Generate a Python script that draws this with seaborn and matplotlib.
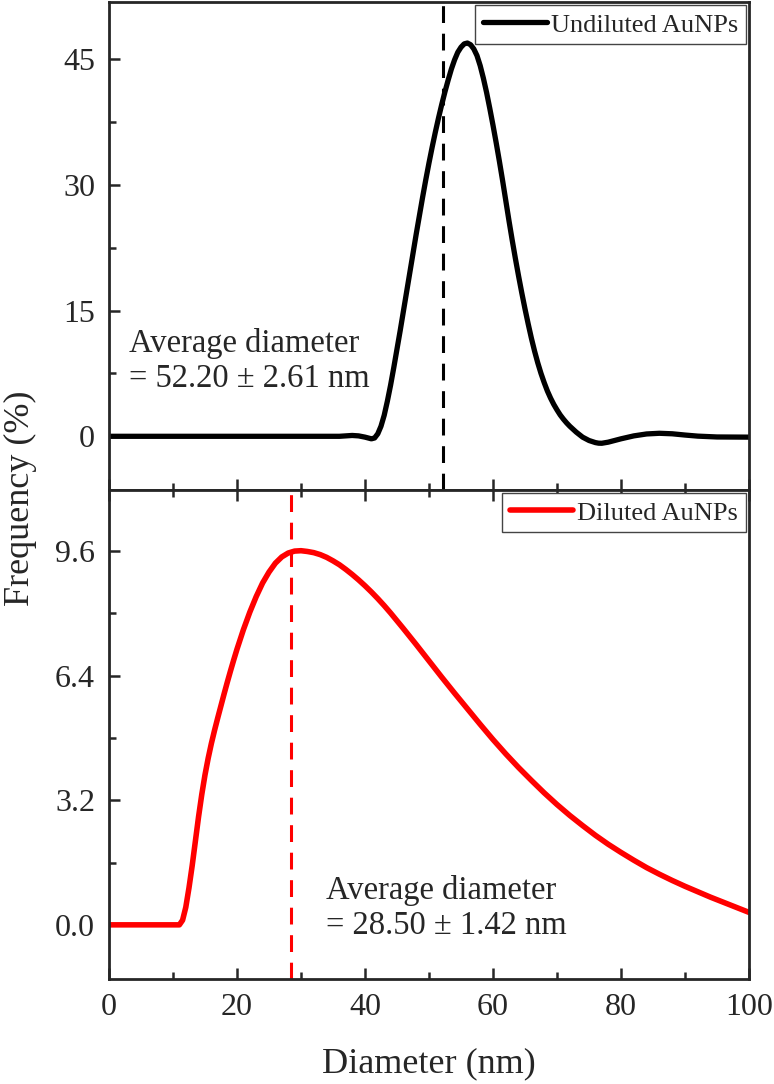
import matplotlib
matplotlib.use("Agg")
import matplotlib.pyplot as plt
from matplotlib.ticker import MultipleLocator, FormatStrFormatter
import seaborn as sns

# size distributions (diameter nm -> frequency %)
undiluted_d = [0, 5, 10, 15, 20, 25, 30, 35, 36, 37, 38, 39, 40, 41, 41.5, 42, 42.5,
               43, 43.5, 44, 44.5, 45, 45.5, 46, 46.5, 47, 47.5, 48, 48.5, 49, 49.5,
               50, 50.5, 51, 51.5, 52, 52.5, 53, 53.5, 54, 54.5, 55, 55.5, 56, 56.5,
               57, 57.5, 58, 58.5, 59, 59.5, 60, 60.5, 61, 61.5, 62, 62.5, 63, 63.5,
               64, 64.5, 65, 65.5, 66, 66.5, 67, 67.5, 68, 68.5, 69, 69.5, 70, 70.5,
               71, 71.5, 72, 73, 74, 75, 76, 76.5, 77, 78, 79, 80, 82, 84, 86, 88, 90,
               92, 95, 100]
undiluted_f = [0, 0, 0, 0, 0, 0, 0, 0, 0.0, 0.05, 0.1, 0.05, -0.1, -0.3, -0.2, 0.3,
               1.2, 2.5, 4.2, 6.1, 8.2, 10.4, 12.6, 14.9, 17.2, 19.5, 21.8, 24.1, 26.3,
               28.5, 30.6, 32.6, 34.5, 36.3, 38.0, 39.6, 41.1, 42.5, 43.8, 44.9, 45.8,
               46.4, 46.8, 46.9, 46.7, 46.2, 45.4, 44.2, 42.7, 41.0, 39.1, 37.1, 35.0,
               32.8, 30.5, 28.1, 25.7, 23.4, 21.2, 19.1, 17.1, 15.2, 13.4, 11.7, 10.15,
               8.75, 7.5, 6.4, 5.4, 4.55, 3.8, 3.15, 2.55, 2.05, 1.6, 1.2, 0.5, -0.1,
               -0.5, -0.75, -0.82, -0.83, -0.7, -0.5, -0.3, 0.05, 0.28, 0.36, 0.3, 0.15,
               0.02, -0.08, -0.1]

diluted_d = [0, 5, 10, 11, 11.5, 12, 12.5, 13, 13.5, 14, 14.5, 15, 15.5, 16, 16.5, 17,
             17.5, 18, 18.5, 19, 19.5, 20, 21, 22, 23, 24, 25, 26, 27, 28, 29, 30, 31,
             32, 33, 34, 35, 36, 37, 38, 39, 40, 41, 42, 43, 44, 45, 46, 48, 50, 52,
             54, 56, 58, 60, 62, 64, 66, 68, 70, 72, 74, 76, 78, 80, 82, 84, 86, 88,
             90, 92, 94, 96, 98, 100]
diluted_f = [0, 0, 0, 0.0, 0.12, 0.45, 0.95, 1.52, 2.15, 2.78, 3.35, 3.85, 4.28, 4.66,
             5.0, 5.32, 5.63, 5.94, 6.24, 6.53, 6.81, 7.08, 7.58, 8.03, 8.43, 8.78,
             9.06, 9.29, 9.45, 9.55, 9.6, 9.61, 9.59, 9.56, 9.51, 9.44, 9.35, 9.25,
             9.13, 9.0, 8.86, 8.71, 8.55, 8.38, 8.2, 8.01, 7.81, 7.61, 7.2, 6.78, 6.36,
             5.95, 5.55, 5.15, 4.76, 4.39, 4.04, 3.71, 3.39, 3.09, 2.81, 2.55, 2.3,
             2.07, 1.86, 1.66, 1.47, 1.3, 1.14, 0.99, 0.85, 0.71, 0.58, 0.45, 0.32]

undiluted_mean, undiluted_err = 52.20, 2.61
diluted_mean, diluted_err = 28.50, 1.42

sns.set_style("ticks")
plt.rcParams["font.family"] = ["Liberation Serif", "DejaVu Serif"]

fig = plt.figure(figsize=(7.74, 10.84), dpi=100)
ax1 = fig.add_axes([0.1408, 0.5480, 0.8269, 0.4502])
ax2 = fig.add_axes([0.1408, 0.0969, 0.8269, 0.4511])

sns.lineplot(x=undiluted_d, y=undiluted_f, ax=ax1, color="black", lw=3.8,
             label="Undiluted AuNPs", solid_capstyle="round", solid_joinstyle="round")
ax1.axvline(undiluted_mean, color="black", lw=2.2, dashes=(5.5, 3.5))
sns.lineplot(x=diluted_d, y=diluted_f, ax=ax2, color="#ff0000", lw=4.0,
             label="Diluted AuNPs", solid_capstyle="round", solid_joinstyle="round")
ax2.axvline(diluted_mean, color="#ff0000", lw=2.2, dashes=(5.5, 3.5))

ax1.set_xlim(0, 100)
ax2.set_xlim(0, 100)
ax1.set_ylim(-6.4, 51.8)
ax2.set_ylim(-1.39, 11.17)

ax1.yaxis.set_major_locator(MultipleLocator(15))
ax1.yaxis.set_minor_locator(MultipleLocator(7.5))
ax2.yaxis.set_major_locator(MultipleLocator(3.2))
ax2.yaxis.set_minor_locator(MultipleLocator(1.6))
ax2.yaxis.set_major_formatter(FormatStrFormatter("%.1f"))
for ax in (ax1, ax2):
    ax.xaxis.set_major_locator(MultipleLocator(20))
    ax.xaxis.set_minor_locator(MultipleLocator(10))
    for sp in ax.spines.values():
        sp.set_linewidth(2.0)
        sp.set_visible(True)
    ax.tick_params(which="both", direction="in", width=1.8, labelsize=23, pad=10)
    ax.tick_params(which="major", length=8)
    ax.tick_params(which="minor", length=5)
    ax.set_xlabel("")
    ax.set_ylabel("")

ax1.tick_params(axis="x", which="both", bottom=True, top=False, labelbottom=False)
ax2.tick_params(axis="x", which="both", bottom=True, top=True, labelbottom=True)

ax1.text(3.1, 8.95, f"Average diameter\n= {undiluted_mean:.2f} ± {undiluted_err:.2f} nm",
         fontsize=23.5, ha="left", va="center", linespacing=1.2)
ax2.text(33.9, 0.44, f"Average diameter\n= {diluted_mean:.2f} ± {diluted_err:.2f} nm",
         fontsize=23.5, ha="left", va="center", linespacing=1.2)

for ax in (ax1, ax2):
    leg = ax.legend(loc="upper right", fontsize=19, frameon=True, fancybox=False,
                    handlelength=2.4, handletextpad=0.15, borderpad=0.3,
                    borderaxespad=0.12, framealpha=1)
    leg.get_frame().set_edgecolor("#444444")
    leg.get_frame().set_linewidth(1.0)

ax2.set_xlabel("Diameter (nm)", fontsize=26, labelpad=18)
fig.text(0.026, 0.54, "Frequency (%)", fontsize=26, rotation=90, ha="center", va="center")

fig.savefig("out.png", dpi=100)
plt.close(fig)
